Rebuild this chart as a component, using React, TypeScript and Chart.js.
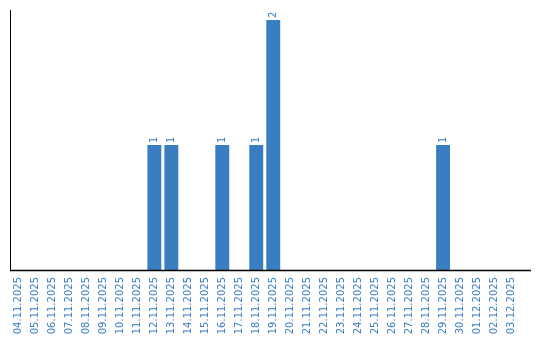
import React, { useEffect, useRef } from "react";
import { Chart, registerables } from "chart.js";

Chart.register(...registerables);

const dates = [
  "04.11.2025", "05.11.2025", "06.11.2025", "07.11.2025", "08.11.2025",
  "09.11.2025", "10.11.2025", "11.11.2025", "12.11.2025", "13.11.2025",
  "14.11.2025", "15.11.2025", "16.11.2025", "17.11.2025", "18.11.2025",
  "19.11.2025", "20.11.2025", "21.11.2025", "22.11.2025", "23.11.2025",
  "24.11.2025", "25.11.2025", "26.11.2025", "27.11.2025", "28.11.2025",
  "29.11.2025", "30.11.2025", "01.12.2025", "02.12.2025", "03.12.2025",
];
const counts = [
  0, 0, 0, 0, 0, 0, 0, 0, 1, 1,
  0, 0, 1, 0, 1, 2, 0, 0, 0, 0,
  0, 0, 0, 0, 0, 1, 0, 0, 0, 0,
];

const BLUE = "#3a7ec2";
const FONT = "'DejaVu Sans', sans-serif";

const valueLabels = {
  id: "valueLabels",
  afterDatasetsDraw(chart: any) {
    const ctx = chart.ctx;
    const meta = chart.getDatasetMeta(0);
    const data = chart.data.datasets[0].data as number[];
    ctx.save();
    ctx.fillStyle = BLUE;
    ctx.font = `10px ${FONT}`;
    meta.data.forEach((bar: any, i: number) => {
      const v = data[i];
      if (!v) return;
      ctx.save();
      ctx.translate(bar.x, bar.y - 2);
      ctx.rotate(-Math.PI / 2);
      ctx.textAlign = "left";
      ctx.textBaseline = "middle";
      ctx.fillText(String(v), 0, 0);
      ctx.restore();
    });
    ctx.restore();
  },
};

const axisExtend = {
  id: "axisExtend",
  afterDraw(chart: any) {
    const { ctx, chartArea } = chart;
    const y = Math.round(chartArea.bottom) + 0.5;
    ctx.save();
    ctx.strokeStyle = "#000";
    ctx.lineWidth = 1.5;
    ctx.beginPath();
    ctx.moveTo(chartArea.left, y);
    ctx.lineTo(531, y);
    ctx.stroke();
    ctx.restore();
  },
};

export default function App() {
  const ref = useRef<HTMLCanvasElement>(null);
  useEffect(() => {
    document.body.style.margin = "0";
    const chart = new Chart(ref.current!, {
      type: "bar",
      data: {
        labels: dates,
        datasets: [
          {
            data: counts,
            backgroundColor: BLUE,
            borderWidth: 0,
            categoryPercentage: 1,
            barPercentage: 0.82,
          },
        ],
      },
      options: {
        animation: false,
        responsive: false,
        maintainAspectRatio: false,
        layout: { padding: { left: 10, top: 10, right: 20.5, bottom: 0 } },
        plugins: { legend: { display: false }, tooltip: { enabled: false } },
        scales: {
          x: {
            grid: { display: false, drawTicks: false },
            border: { display: false },
            ticks: {
              autoSkip: false,
              minRotation: 90,
              maxRotation: 90,
              color: BLUE,
              font: { family: FONT, size: 10 },
              padding: 7,
            },
            afterFit(scale: any) {
              scale.height = 70;
            },
          },
          y: {
            min: 0,
            max: 2.08,
            grid: { display: false, drawTicks: false },
            border: { display: true, color: "#000", width: 1 },
            ticks: { display: false },
            afterFit(scale: any) {
              scale.width = 0;
            },
          },
        },
      },
      plugins: [valueLabels, axisExtend],
    });
    return () => chart.destroy();
  }, []);
  return (
    <div style={{ width: 540, height: 340 }}>
      <canvas ref={ref} width={540} height={340} />
    </div>
  );
}
